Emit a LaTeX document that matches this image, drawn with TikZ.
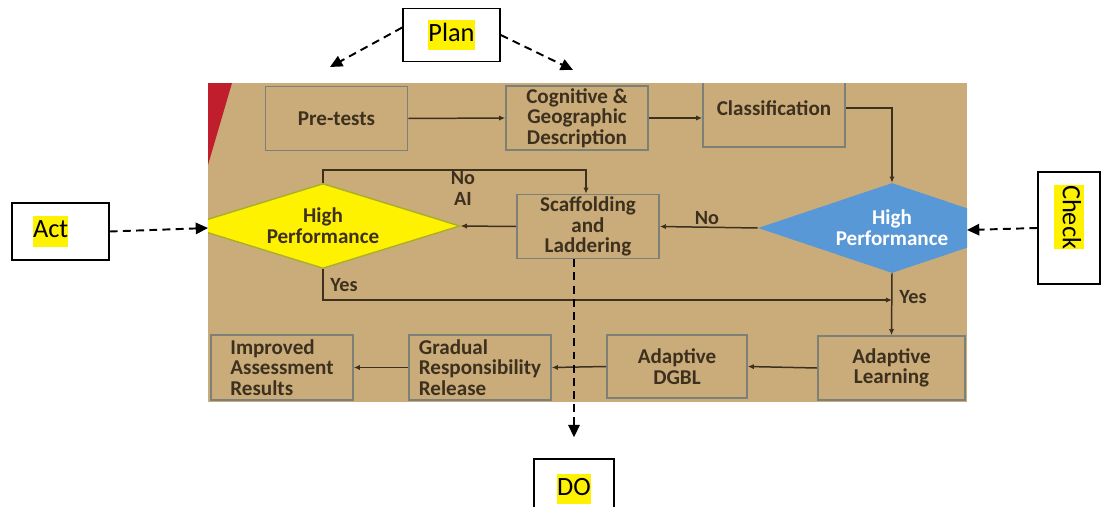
\documentclass[tikz,border=0pt]{standalone}
\usepackage{fontspec}
\setmainfont{Carlito}
\usetikzlibrary{shapes.geometric,arrows.meta}
\definecolor{boardtan}{RGB}{201,172,122}
\definecolor{boxline}{RGB}{125,128,118}
\definecolor{flowink}{RGB}{62,48,30}
\definecolor{hpblue}{RGB}{88,152,214}
\definecolor{hpedge}{RGB}{170,175,40}
\definecolor{cornerred}{RGB}{192,30,45}
\newcommand{\hilite}[1]{{\setlength{\fboxsep}{0pt}\colorbox{yellow}{\strut #1}}}
\begin{document}
\begin{tikzpicture}[x=0.02cm, y=-0.02cm,
  stepbox/.style={draw=boxline, line width=0.9pt, rectangle, inner sep=0pt, minimum width=2.84cm, minimum height=1.28cm, align=center, text=flowink, font=\fontsize{12}{11.8}\selectfont\bfseries},
  decision/.style={diamond, aspect=3, inner sep=0pt, align=center, font=\fontsize{12}{11.8}\selectfont\bfseries},
  flow/.style={draw=flowink, line width=0.85pt, -{Latex[length=3.5pt,width=3pt]}},
  flowlabel/.style={text=flowink, align=center, font=\fontsize{11.5}{12}\selectfont\bfseries},
  pdcabox/.style={draw=black, line width=0.9pt, fill=white, rectangle, font=\fontsize{15}{17.5}\selectfont},
  dasharrow/.style={line width=1.1pt, dash pattern=on 4.5pt off 3pt, -{Triangle[length=7pt,width=6.5pt]}}]
\clip (0,0) rectangle (1102,507);
\fill[white] (0,0) rectangle (1102,507);
\begin{scope}
\clip (208,83) rectangle (967,402);
\fill[boardtan] (208,83) rectangle (967,402);
\fill[cornerred] (208,83) -- (232,83) -- (208,165) -- cycle;
\node[stepbox] (pre)  at (336.5,118.5) {Pre-tests};
\node[stepbox] (cog)  at (577,118)     {Cognitive \&\\Geographic\\Description};
\node[stepbox, minimum height=1.56cm] (cls) at (774,108) {Classification};
\node[decision, fill=hpblue, text=white, minimum width=5.36cm, minimum height=1.8cm] (hp2) at (892,228) {High\\Performance};
\node[stepbox] (scaf) at (588,226.5)   {Scaffolding\\and\\Laddering};
\node[decision, fill=yellow, draw=hpedge, line width=0.8pt, text=flowink, minimum width=5.48cm, minimum height=1.7cm] (hp1) at (323,226) {High\\Performance};
\node[stepbox, minimum width=2.95cm] (al) at (891.5,368) {Adaptive\\Learning};
\node[stepbox, minimum width=2.8cm, minimum height=1.26cm] (dgbl) at (677,366.5) {Adaptive\\DGBL};
\node[stepbox, minimum height=1.3cm, align=left] (grr) at (480,367.5) {Gradual\\Responsibility\\Release};
\node[stepbox, minimum height=1.3cm, align=left] (imp) at (282,367.5) {Improved\\Assessment\\Results};
\coordinate (yesrow) at (0,300);
\draw[flow] (pre.east) -- (cog.west);
\draw[flow] (cog.east) -- (cog.east -| cls.west);
\draw[flow] (cls.east) -| (hp2.north);
\draw[flow] (hp2.west) -- (scaf.east);
\draw[flow] (scaf.west) -- (hp1.east);
\draw[flow] (hp1.north) -- ++(0,-13) -| ([xshift=-0.04cm]scaf.north);
\draw[flow] (hp1.south) |- (hp2.south |- yesrow);
\draw[flow] (hp2.south) -- (al.north);
\draw[flow] (al.west) -- (dgbl.east);
\draw[flow] (dgbl.west) -- (grr.east);
\draw[flow] (grr.west) -- (imp.east);
\node[flowlabel] (nolab)  at (707,218) {No};
\node[flowlabel] (noai)   at (463,188) {No\\AI};
\node[flowlabel] (yes1)   at (344,285) {Yes};
\node[flowlabel] (yes2)   at (913,297) {Yes};
\end{scope}
\node[pdcabox, minimum width=1.94cm, minimum height=1.06cm] (plan) at (451.5,35) {\hilite{Plan}};
\node[pdcabox, minimum height=1.14cm, inner xsep=0.42cm, text width=1.1cm, align=left] (act) at (60.5,231.5) {\hilite{Act}};
\node[pdcabox, rotate=-90, minimum height=1.24cm, inner xsep=0.26cm, text width=1.72cm, align=left] (check) at (1069,228) {\hilite{Check}};
\node[pdcabox, minimum width=1.6cm, minimum height=1.2cm] (do) at (574,489) {\hilite{DO}};
\coordinate (plantipl) at (330,67);
\coordinate (plantipr) at (573,70);
\coordinate (acttip)   at (208,228);
\coordinate (checktip) at (967,230);
\draw[dasharrow] ([yshift=0.15cm]plan.west) -- (plantipl);
\draw[dasharrow] (plan.east) -- (plantipr);
\draw[dasharrow] (act.east) -- (acttip);
\draw[dasharrow] (check.south) -- (checktip);
\draw[dasharrow, shorten >=0.42cm] (scaf.south -| do.north) -- (do.north);
\end{tikzpicture}
\end{document}
